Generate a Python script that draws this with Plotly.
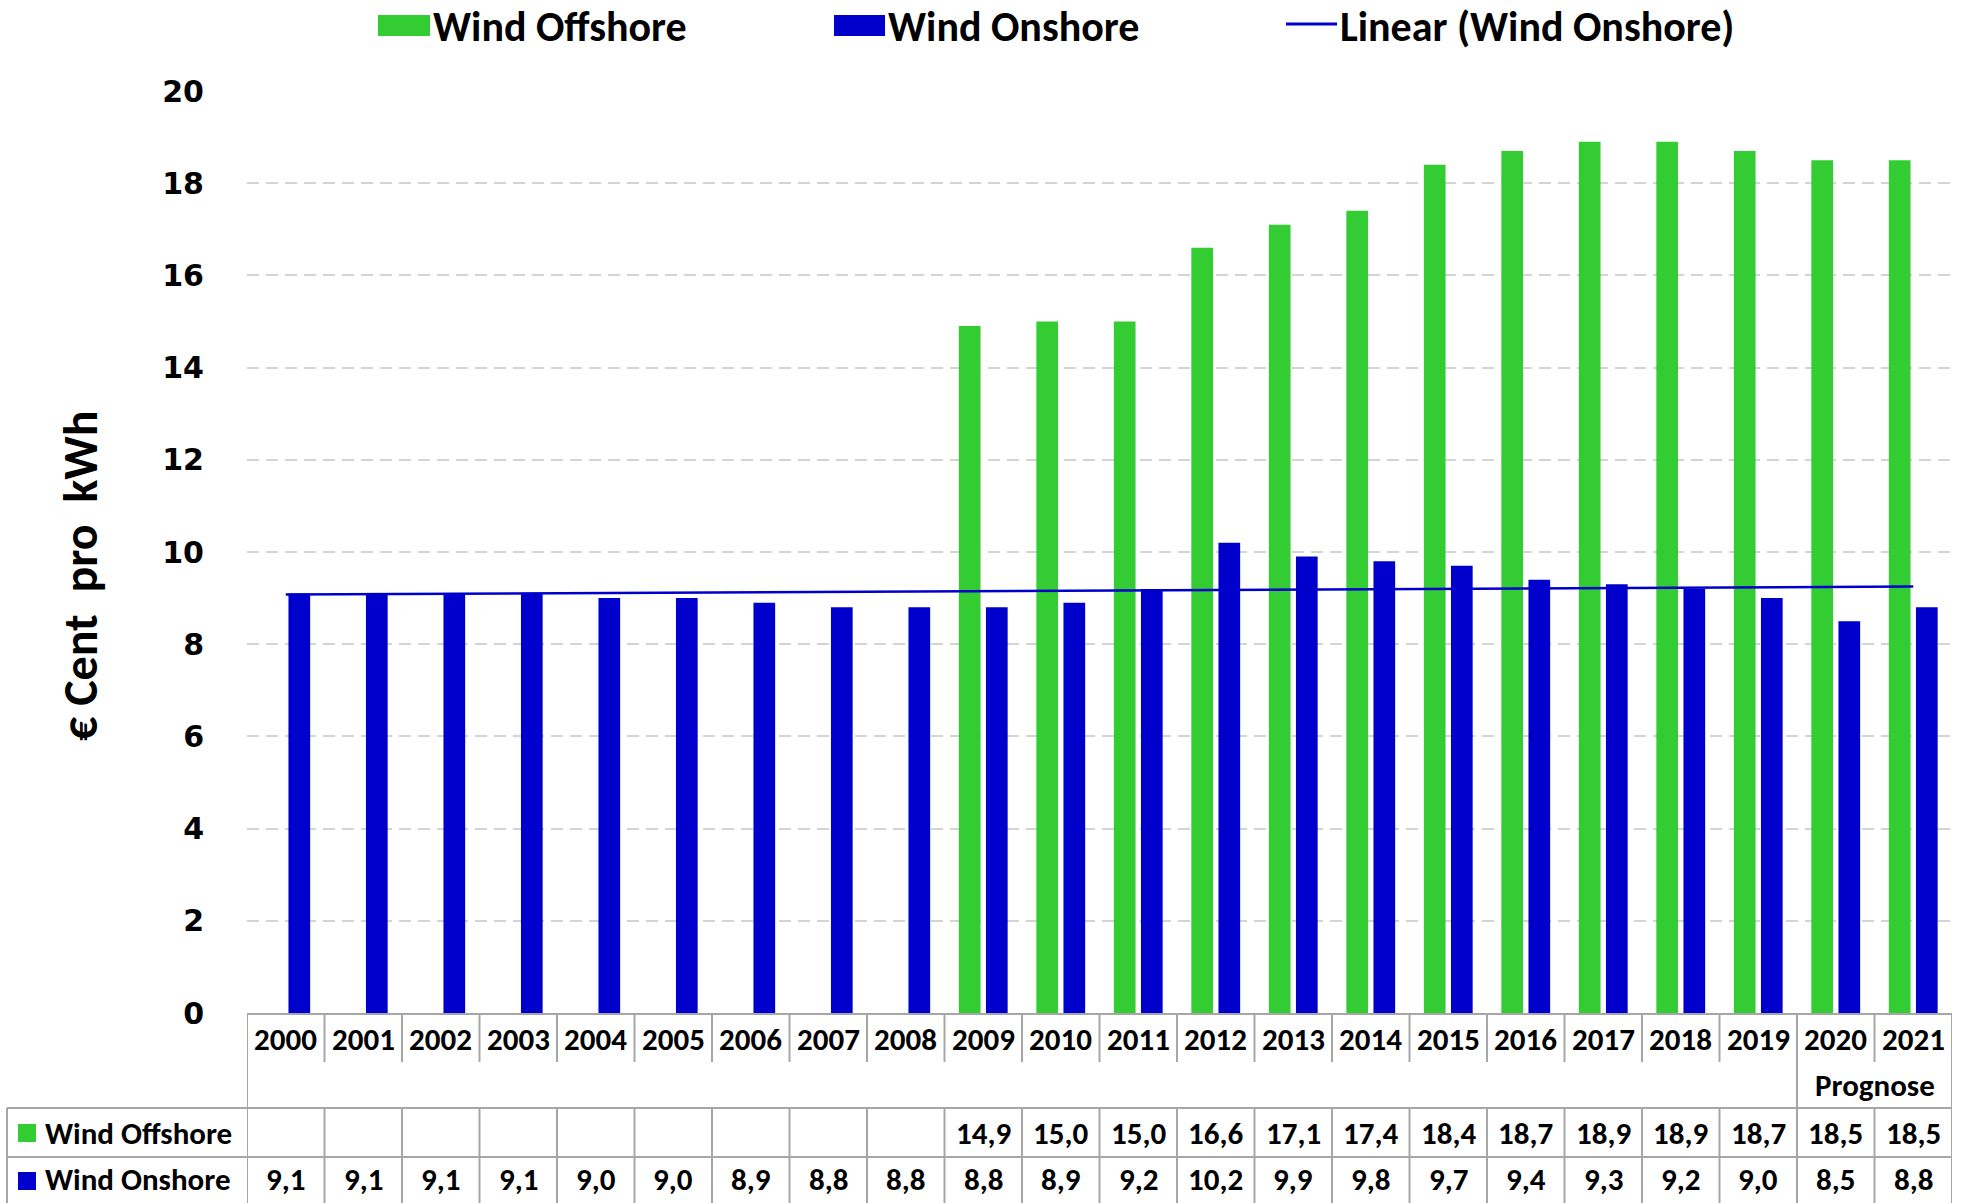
import numpy as np
import plotly.graph_objects as go

years = [str(y) for y in range(2000, 2022)]
offshore = [None] * 9 + [14.9, 15.0, 15.0, 16.6, 17.1, 17.4, 18.4, 18.7, 18.9, 18.9, 18.7, 18.5, 18.5]
onshore = [9.1, 9.1, 9.1, 9.1, 9.0, 9.0, 8.9, 8.8, 8.8, 8.8, 8.9, 9.2, 10.2, 9.9, 9.8, 9.7, 9.4, 9.3, 9.2, 9.0, 8.5, 8.8]
y_ticks = [0, 2, 4, 6, 8, 10, 12, 14, 16, 18, 20]
forecast_label = "Prognose"
forecast_years = ["2020", "2021"]

GREEN = "#33cc33"
BLUE = "#0000cc"
GRID = "#d4d4d4"
BORDER = "#a6a6a6"
TXT_FONT = "Carlito, Lato, 'Open Sans', sans-serif"

W, H = 1963, 1203
PLOT_L, PLOT_R, PLOT_T, PLOT_B = 247, 1952, 91, 1013   # page pixels
ML, MT, MR, MB = PLOT_L, PLOT_T, W - PLOT_R, H - PLOT_B
PW = PLOT_R - PLOT_L
PH = PLOT_B - PLOT_T


def py(pix):
    return (PLOT_B - pix) / PH


def px(pix):
    return (pix - PLOT_L) / PW


# linear trend of onshore values (as the spreadsheet trendline)
idx = np.arange(1, len(onshore) + 1)
slope, intercept = np.polyfit(idx, np.array(onshore), 1)
trend = intercept + slope * idx

fig = go.Figure()
fig.add_trace(go.Bar(name="Wind Offshore", x=years, y=offshore, marker_color=GREEN,
                     marker_line_width=0))
fig.add_trace(go.Bar(name="Wind Onshore", x=years, y=onshore, marker_color=BLUE,
                     marker_line_width=0))
fig.add_trace(go.Scatter(name="Linear (Wind Onshore)", x=years, y=trend, mode="lines",
                         line=dict(color=BLUE, width=2.5)))

BOTTOM = H
shapes = []
line = dict(color=BORDER, width=2)
n = len(years)
split = years.index(forecast_years[0])
# vertical borders of the data table
for k in range(n + 1):
    xb = k - 0.5
    if k == 0 or k == n or k == split:
        shapes.append(dict(type="line", xref="x", yref="paper", x0=xb, x1=xb,
                           y0=py(PLOT_B), y1=py(BOTTOM), line=line))
    else:
        shapes.append(dict(type="line", xref="x", yref="paper", x0=xb, x1=xb,
                           y0=py(PLOT_B), y1=py(1062), line=line))
        shapes.append(dict(type="line", xref="x", yref="paper", x0=xb, x1=xb,
                           y0=py(1108), y1=py(BOTTOM), line=line))
for yy in (1108, 1157):
    shapes.append(dict(type="line", xref="paper", yref="paper", x0=px(7), x1=1,
                       y0=py(yy), y1=py(yy), line=line))
shapes.append(dict(type="line", xref="paper", yref="paper", x0=px(7), x1=px(7),
                   y0=py(1108), y1=py(BOTTOM), line=line))
# legend keys inside the table
shapes.append(dict(type="rect", xref="paper", yref="paper", x0=px(18), x1=px(36),
                   y0=py(1142), y1=py(1124), fillcolor=GREEN, line_width=0))
shapes.append(dict(type="rect", xref="paper", yref="paper", x0=px(18), x1=px(36),
                   y0=py(1190), y1=py(1172), fillcolor=BLUE, line_width=0))
# top legend
shapes.append(dict(type="rect", xref="paper", yref="paper", x0=px(378), x1=px(430),
                   y0=py(36), y1=py(15), fillcolor=GREEN, line_width=0))
shapes.append(dict(type="rect", xref="paper", yref="paper", x0=px(834), x1=px(885),
                   y0=py(36), y1=py(15), fillcolor=BLUE, line_width=0))
shapes.append(dict(type="line", xref="paper", yref="paper", x0=px(1286), x1=px(1337),
                   y0=py(24), y1=py(24), line=dict(color=BLUE, width=3)))

annotations = []
tfont = dict(family=TXT_FONT, size=31, color="black", weight="bold")


def fmt(v):
    return "" if v is None else f"{v:.1f}".replace(".", ",")


ROW_ON = 1179
for i, yr in enumerate(years):
    annotations.append(dict(x=i, y=py(1039), xref="x", yref="paper", text=yr,
                            showarrow=False, font=tfont, xanchor="center", yanchor="middle"))
    annotations.append(dict(x=i, y=py(1133), xref="x", yref="paper", text=fmt(offshore[i]),
                            showarrow=False, font=tfont, xanchor="center", yanchor="middle"))
    annotations.append(dict(x=i, y=py(ROW_ON), xref="x", yref="paper", text=fmt(onshore[i]),
                            showarrow=False, font=tfont, xanchor="center", yanchor="middle"))
fi = [years.index(y) for y in forecast_years]
annotations.append(dict(x=sum(fi) / len(fi), y=py(1085), xref="x", yref="paper",
                        text=forecast_label, showarrow=False, font=tfont,
                        xanchor="center", yanchor="middle"))
annotations.append(dict(x=px(43), y=py(1133), xref="paper", yref="paper", text="Wind Offshore",
                        showarrow=False, font=tfont, xanchor="left", yanchor="middle"))
annotations.append(dict(x=px(43), y=py(ROW_ON), xref="paper", yref="paper", text="Wind Onshore",
                        showarrow=False, font=tfont, xanchor="left", yanchor="middle"))
lfont = dict(family=TXT_FONT, size=42, color="black", weight="bold")
for xpix, label in ((432, "Wind Offshore"), (887, "Wind Onshore"), (1339, "Linear (Wind Onshore)")):
    annotations.append(dict(x=px(xpix), y=py(0), xref="paper", yref="paper", text=label,
                            showarrow=False, font=lfont, xanchor="left", yanchor="top",
                            borderpad=0))
annotations.append(dict(x=px(80), y=py(576), xref="paper", yref="paper",
                        text="€ Cent\u00a0\u00a0pro\u00a0\u00a0kWh", textangle=-90,
                        showarrow=False, font=dict(family=TXT_FONT, size=48, color="black", weight="bold"),
                        xanchor="center", yanchor="middle"))

fig.update_layout(
    width=W, height=H,
    margin=dict(l=ML, r=MR, t=MT, b=MB),
    paper_bgcolor="white", plot_bgcolor="white",
    barmode="group", bargap=0.30, bargroupgap=0.2,
    showlegend=False,
    shapes=shapes, annotations=annotations,
    xaxis=dict(type="category", range=[-0.5, n - 0.5], showticklabels=False,
               showline=True, linecolor=BORDER, linewidth=2, showgrid=False, ticks=""),
    yaxis=dict(range=[0, 20], tickvals=y_ticks, showgrid=True, gridcolor=GRID, gridwidth=2,
               griddash="12px,7px", zeroline=False, showline=False,
               ticks="outside", ticklen=36, tickcolor="rgba(0,0,0,0)",
               tickfont=dict(family="'DejaVu Sans', Verdana, sans-serif", size=30,
                             color="black", weight="bold")),
)

# remove the default page margin so the figure fills the window exactly
fig.write_html("out.html", config={"displayModeBar": False},
               post_script="document.body.style.margin='0';document.body.style.overflow='hidden';")
